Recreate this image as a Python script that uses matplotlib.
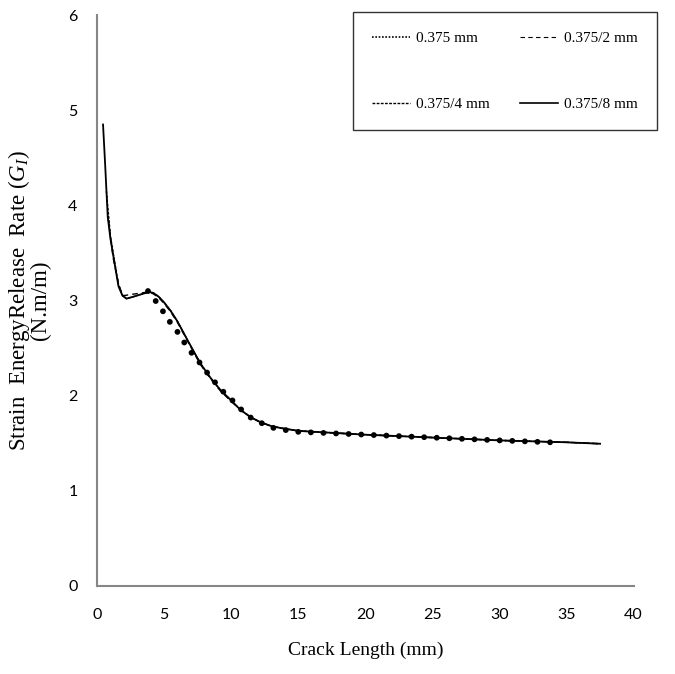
import matplotlib.pyplot as plt
from matplotlib.lines import Line2D

plt.rcParams['mathtext.fontset'] = 'custom'
plt.rcParams['mathtext.rm'] = 'Liberation Serif'
plt.rcParams['mathtext.it'] = 'Liberation Serif:italic'

# crack length (mm) / strain energy release rate (N.m/m) per mesh size
x_375 = [3.8, 4.3, 4.7, 5.1, 5.5, 6.0, 6.4, 6.8, 7.2, 7.7, 8.1, 8.6, 9.0, 9.5, 10.1, 10.5,
         11.1, 11.6, 12.3, 12.9, 13.5, 15, 20, 25, 30, 33.8]
g_375 = [3.10, 3.01, 2.93, 2.85, 2.76, 2.67, 2.58, 2.50, 2.42, 2.34, 2.26, 2.18, 2.10, 2.03,
         1.95, 1.88, 1.82, 1.75, 1.71, 1.67, 1.65, 1.62, 1.59, 1.56, 1.53, 1.51]

x_375_2 = [0.85, 1.2, 1.6, 1.9, 3.8, 4.2, 4.6, 5.0, 5.5, 6.0, 6.8, 7.7, 8.5, 9.2, 10.0,
           10.7, 11.5, 12.2, 13.0, 13.7, 15, 20, 25, 30, 35, 37.5]
g_375_2 = [3.85, 3.45, 3.18, 3.05, 3.09, 3.07, 3.03, 2.97, 2.88, 2.77, 2.56, 2.33, 2.17,
           2.05, 1.94, 1.85, 1.77, 1.72, 1.68, 1.66, 1.63, 1.59, 1.56, 1.53, 1.51, 1.495]

x_375_4 = [0.7, 1.0, 1.3, 1.6, 1.9, 2.2, 2.7, 3.4, 3.9, 4.2, 4.6, 5.0, 5.5, 6.0, 6.8, 7.7,
           8.5, 9.2, 10.0, 10.7, 11.5, 12.2, 13.0, 13.7, 15, 20, 25, 30, 35, 37.5]
g_375_4 = [4.15, 3.68, 3.42, 3.17, 3.06, 3.02, 3.04, 3.07, 3.09, 3.08, 3.04, 2.98, 2.89,
           2.78, 2.57, 2.34, 2.18, 2.06, 1.95, 1.85, 1.77, 1.72, 1.68, 1.66, 1.63, 1.59,
           1.56, 1.53, 1.51, 1.495]

x_375_8 = [0.45, 0.6, 0.8, 1.0, 1.3, 1.6, 1.9, 2.2, 2.7, 3.4, 3.9, 4.2, 4.6, 5.0, 5.5, 6.0,
           6.8, 7.7, 8.5, 9.2, 10.0, 10.7, 11.5, 12.2, 13.0, 13.7, 15, 20, 25, 30, 35, 37.5]
g_375_8 = [4.85, 4.45, 3.88, 3.65, 3.40, 3.15, 3.05, 3.02, 3.04, 3.07, 3.09, 3.08, 3.04,
           2.98, 2.89, 2.78, 2.57, 2.34, 2.18, 2.06, 1.95, 1.85, 1.77, 1.72, 1.68, 1.66,
           1.63, 1.59, 1.56, 1.53, 1.51, 1.495]

labels = ['0.375 mm', '0.375/2 mm', '0.375/4 mm', '0.375/8 mm']

fig = plt.figure(figsize=(6.75, 6.74), dpi=100)
ax = fig.add_axes([0.1437, 0.1306, 0.795, 0.847])

ax.plot(x_375_8, g_375_8, color='black', lw=1.3, ls='-')
ax.plot(x_375_4, g_375_4, color='black', lw=1.0, ls=(0, (2, 1)))
ax.plot(x_375_2, g_375_2, color='black', lw=1.0, ls=(0, (4, 3)))
ax.plot(x_375, g_375, color='black', lw=4.2, ls=(0, (0.01, 2.15)),
        dash_capstyle='round')

ax.set_xlim(0, 40)
ax.set_ylim(0, 6)
ax.set_xticks(range(0, 41, 5))
ax.set_yticks(range(0, 7))
ax.tick_params(length=0, labelsize=11.5)
for lab in ax.get_xticklabels() + ax.get_yticklabels():
    lab.set_family('Lato')
ax.tick_params(axis='x', pad=16)
ax.tick_params(axis='y', pad=14)

for s in ['top', 'right']:
    ax.spines[s].set_visible(False)
for s in ['left', 'bottom']:
    ax.spines[s].set_color('#868686')
    ax.spines[s].set_linewidth(1.5)

serif = 'Liberation Serif'
ax.set_xlabel('Crack Length (mm)', family=serif, fontsize=14, labelpad=14)
ax.set_ylabel('Strain  EnergyRelease  Rate ($G_I$)\n(N.m/m)', family=serif,
              fontsize=16.5, labelpad=12, linespacing=0.9)

handles = [
    Line2D([], [], color='black', lw=1.2, ls=(0, (1, 1))),
    Line2D([], [], color='black', lw=0.8, ls=(0, (4, 3))),
    Line2D([], [], color='black', lw=1.0, ls=(0, (2, 1))),
    Line2D([], [], color='black', lw=1.2, ls='-'),
]
# column-wise fill: row 1 -> 0.375, 0.375/2 ; row 2 -> 0.375/4, 0.375/8
order = [0, 2, 1, 3]
leg = ax.legend([handles[i] for i in order], [labels[i] for i in order], ncol=2,
                loc='upper left', bbox_to_anchor=(0.4767, 1.0053), frameon=True,
                fancybox=False, edgecolor='black', prop={'family': serif, 'size': 11},
                handlelength=2.5, handletextpad=0.4, columnspacing=1.95,
                labelspacing=3.45, borderpad=1.25, borderaxespad=0)
leg.get_frame().set_linewidth(1.0)

fig.savefig('out.png', dpi=100)
